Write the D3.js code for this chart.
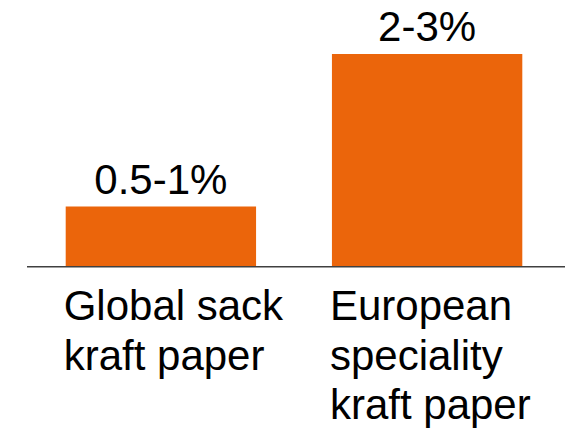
<!DOCTYPE html>
<html>
<head>
<meta charset="utf-8">
<script src="https://cdn.jsdelivr.net/npm/d3@7"></script>
<style>
  body { margin: 0; background: #fff; }
  text { font-family: "Liberation Sans", Arial, sans-serif; fill: #000; }
</style>
</head>
<body>
<div id="chart"></div>
<script>
// data
const categories = ["Global sack kraft paper", "European speciality kraft paper"];
const tickLines = [["Global sack", "kraft paper"], ["European", "speciality", "kraft paper"]];
const values = [0.75, 2.65];
const valueLabels = ["0.5-1%", "2-3%"];

const width = 565;
const height = 432;
const baseline = 266.7;

const svg = d3
  .select("#chart")
  .append("svg")
  .attr("width", width)
  .attr("height", height);

const x = d3
  .scaleBand()
  .domain(categories)
  .range([65.7, 522.3])
  .paddingInner(0.285)
  .paddingOuter(0);

const y = d3
  .scaleLinear()
  .domain([0, d3.max(values)])
  .range([baseline, 54]);

// bars
svg
  .selectAll("rect.bar")
  .data(values)
  .enter()
  .append("rect")
  .attr("class", "bar")
  .attr("x", (d, i) => x(categories[i]))
  .attr("y", d => y(d))
  .attr("width", x.bandwidth())
  .attr("height", d => baseline - y(d))
  .style("fill", "#eb650b");

// baseline
svg
  .append("line")
  .attr("x1", 27)
  .attr("x2", width)
  .attr("y1", baseline)
  .attr("y2", baseline)
  .style("stroke", "#404040")
  .style("stroke-width", 1.6);

// value labels above bars
svg
  .selectAll("text.value")
  .data(values)
  .enter()
  .append("text")
  .attr("class", "value")
  .attr("x", (d, i) => x(categories[i]) + x.bandwidth() / 2)
  .attr("y", d => y(d) - 13)
  .attr("text-anchor", "middle")
  .style("font-size", "42px")
  .text((d, i) => valueLabels[i]);

// category labels, left aligned under each bar
const ticks = svg
  .selectAll("text.tick")
  .data(categories)
  .enter()
  .append("text")
  .attr("class", "tick")
  .attr("x", d => x(d) - 2)
  .attr("y", 320)
  .style("font-size", "42px");

ticks
  .selectAll("tspan")
  .data((d, i) => tickLines[i])
  .enter()
  .append("tspan")
  .attr("x", function() { return d3.select(this.parentNode).attr("x"); })
  .attr("dy", (d, i) => (i === 0 ? 0 : 49.5))
  .text(d => d);
</script>
</body>
</html>
